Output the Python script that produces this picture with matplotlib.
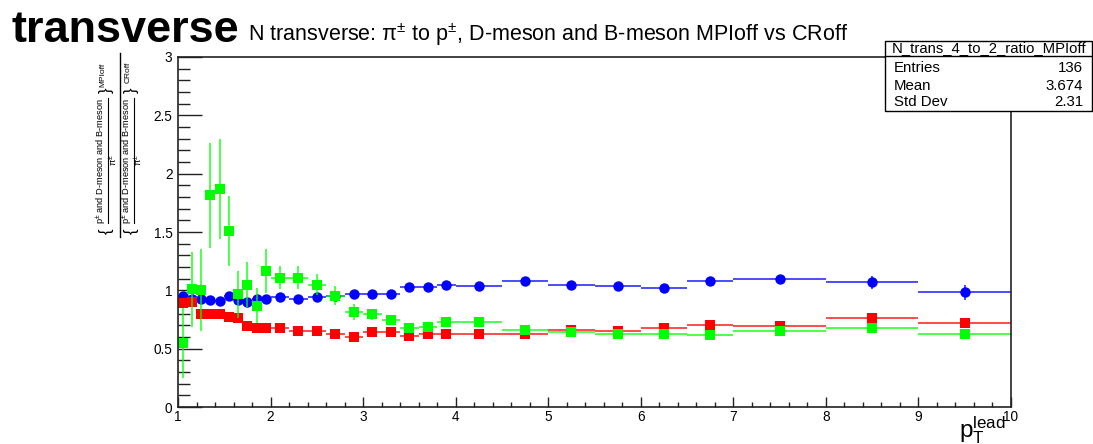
"""Recreate ROOT-style ratio plot: N transverse MPIoff vs CRoff."""

import matplotlib
matplotlib.use("Agg")
import matplotlib.pyplot as plt
from matplotlib.lines import Line2D
from matplotlib.patches import Rectangle
from matplotlib.ticker import MultipleLocator

plt.rcParams["font.family"] = ["Liberation Sans", "DejaVu Sans"]
plt.rcParams["mathtext.fontset"] = "custom"
plt.rcParams["mathtext.rm"] = "Liberation Sans"
plt.rcParams["mathtext.it"] = "Liberation Sans:italic"

# variable binning in pT lead
bin_edges = [1.0, 1.1, 1.2, 1.3, 1.4, 1.5, 1.6, 1.7, 1.8, 1.9, 2.0,
             2.2, 2.4, 2.6, 2.8, 3.0, 3.2, 3.4, 3.6, 3.8, 4.0,
             4.5, 5.0, 5.5, 6.0, 6.5, 7.0, 8.0, 9.0, 10.0]

# pi ratio (blue)
blue_vals = [0.954, 0.93, 0.93, 0.92, 0.91, 0.954, 0.92, 0.90, 0.93, 0.93,
             0.945, 0.93, 0.945, 0.955, 0.968, 0.968, 0.968, 1.025, 1.025, 1.045,
             1.037, 1.08, 1.045, 1.037, 1.02, 1.08, 1.094, 1.068, 0.983]
blue_errs = [0.02, 0.02, 0.02, 0.02, 0.02, 0.02, 0.02, 0.02, 0.02, 0.02,
             0.015, 0.015, 0.015, 0.015, 0.015, 0.015, 0.015, 0.02, 0.02, 0.02,
             0.02, 0.02, 0.02, 0.02, 0.025, 0.03, 0.03, 0.057, 0.064]

# p ratio (red)
red_vals = [0.89, 0.90, 0.80, 0.80, 0.80, 0.77, 0.76, 0.694, 0.68, 0.68,
            0.68, 0.651, 0.651, 0.625, 0.60, 0.64, 0.64, 0.61, 0.625, 0.625,
            0.63, 0.625, 0.66, 0.65, 0.675, 0.70, 0.694, 0.765, 0.72]
red_errs = [0.02, 0.02, 0.015, 0.015, 0.015, 0.015, 0.015, 0.015, 0.015, 0.015,
            0.01, 0.01, 0.01, 0.01, 0.01, 0.01, 0.01, 0.01, 0.01, 0.01,
            0.01, 0.015, 0.015, 0.015, 0.02, 0.02, 0.02, 0.03, 0.03]

# D/B-meson ratio (green)
green_vals = [0.546, 1.01, 1.0, 1.817, 1.87, 1.508, 0.966, 1.05, 0.868, 1.168,
              1.11, 1.11, 1.05, 0.954, 0.817, 0.794, 0.745, 0.674, 0.688, 0.726,
              0.725, 0.66, 0.64, 0.63, 0.63, 0.617, 0.654, 0.674, 0.623]
green_errs = [0.30, 0.32, 0.35, 0.45, 0.43, 0.30, 0.20, 0.19, 0.15, 0.19,
              0.10, 0.10, 0.09, 0.08, 0.07, 0.05, 0.04, 0.04, 0.04, 0.04,
              0.03, 0.03, 0.03, 0.03, 0.03, 0.03, 0.03, 0.03, 0.03]

stats_name = "N_trans_4_to_2_ratio_MPIoff"
stats_rows = [("Entries", "136"), ("Mean", "3.674"), ("Std Dev", "2.31")]

W, H = 1093, 444


def fx(px):
    return px / W


def fy(py):
    return 1 - py / H


centers = [(lo + hi) / 2 for lo, hi in zip(bin_edges[:-1], bin_edges[1:])]
halfw = [(hi - lo) / 2 for lo, hi in zip(bin_edges[:-1], bin_edges[1:])]

fig = plt.figure(figsize=(W / 100, H / 100), dpi=100)
ax = fig.add_axes([fx(178), fy(407), fx(1011) - fx(178), fy(57) - fy(407)])

series = [
    (blue_vals, blue_errs, "#0000ff", "o", 7.5),
    (red_vals, red_errs, "#ff0000", "s", 7.2),
    (green_vals, green_errs, "#00ff00", "s", 7.2),
]
for vals, errs, col, mk, ms in series:
    ax.errorbar(centers, vals, xerr=halfw, yerr=errs, fmt="none",
                ecolor=col, elinewidth=1.4, alpha=0.7, capsize=0)
    ax.plot(centers, vals, linestyle="none", marker=mk, markersize=ms,
            color=col, markeredgewidth=0)

ax.set_xlim(1, 10)
ax.set_ylim(0, 3)
ax.xaxis.set_major_locator(MultipleLocator(1))
ax.xaxis.set_minor_locator(MultipleLocator(0.2))
ax.yaxis.set_minor_locator(MultipleLocator(0.1))
ax.set_yticks([0, 0.5, 1, 1.5, 2, 2.5, 3])
ax.set_yticklabels(["0", "0.5", "1", "1.5", "2", "2.5", "3"])
ax.tick_params(axis="both", which="both", direction="in", labelsize=9.8,
               top=False, right=False, color="#222222")
ax.tick_params(axis="y", which="major", length=17, width=1, pad=4)
ax.tick_params(axis="y", which="minor", length=8.5, width=1)
ax.tick_params(axis="x", which="major", length=7, width=1, pad=2)
ax.tick_params(axis="x", which="minor", length=3.5, width=1)
for side in ax.spines.values():
    side.set_linewidth(1.2)
    side.set_color("#222222")

# titles
fig.text(fx(12), fy(42), "transverse", fontsize=32.5, fontweight="bold",
         ha="left", va="baseline")
fig.text(fx(248), fy(41),
         r"N transverse: $\mathrm{π}^{\pm}$ to p$^{\pm}$, D-meson and B-meson MPIoff vs CRoff",
         fontsize=15.5, ha="left", va="baseline")

# x label
fig.text(fx(1006), fy(437), r"$\mathrm{p}_{\mathrm{T}}^{\mathrm{lead}}$",
         fontsize=17.5, ha="right", va="baseline")

# y label, built by hand: {(p and D and B)/pi}_MPIoff over {(p and D and B)/pi}_CRoff
num_text = r"p$^{\pm}$ and D-meson and B-meson"
den_text = r"$\mathrm{π}^{\pm}$"
for x0, sub, sub_y in [(102, "MPIoff", 75), (127.5, "CRoff", 72)]:
    fig.text(fx(x0), fy(160.5), num_text, fontsize=6.7, rotation=90,
             ha="center", va="center")
    fig.add_artist(Line2D([fx(x0 + 6), fx(x0 + 6)], [fy(98), fy(223)],
                          color="black", linewidth=0.8,
                          transform=fig.transFigure))
    fig.text(fx(x0 + 11.5), fy(160.5), den_text, fontsize=6.7, rotation=90,
             ha="center", va="center")
    fig.text(fx(x0 + 4), fy(231), "{", fontsize=12, rotation=90,
             ha="center", va="center")
    fig.text(fx(x0 + 4), fy(90), "}", fontsize=12, rotation=90,
             ha="center", va="center")
    fig.text(fx(x0 + 1), fy(sub_y), sub, fontsize=6, rotation=90,
             ha="center", va="center")
fig.add_artist(Line2D([fx(120), fx(120)], [fy(53), fy(237)], color="black",
                      linewidth=1, transform=fig.transFigure))

# stats box
fig.add_artist(Rectangle((fx(885), fy(111)), fx(1092) - fx(885), fy(41) - fy(111),
                         transform=fig.transFigure, facecolor="white",
                         edgecolor="black", linewidth=1, zorder=5))
fig.add_artist(Line2D([fx(885), fx(1092)], [fy(56), fy(56)], color="black",
                      linewidth=1, transform=fig.transFigure, zorder=6))
fig.text(fx(989), fy(48), stats_name, fontsize=10.7, ha="center", va="center",
         zorder=7)
for i, (name, val) in enumerate(stats_rows):
    y = 68.5 + i * 17
    fig.text(fx(894), fy(y), name, fontsize=10.8, ha="left", va="center", zorder=7)
    fig.text(fx(1083), fy(y), val, fontsize=10.8, ha="right", va="center", zorder=7)

fig.savefig("out.png", dpi=100)
plt.close()
